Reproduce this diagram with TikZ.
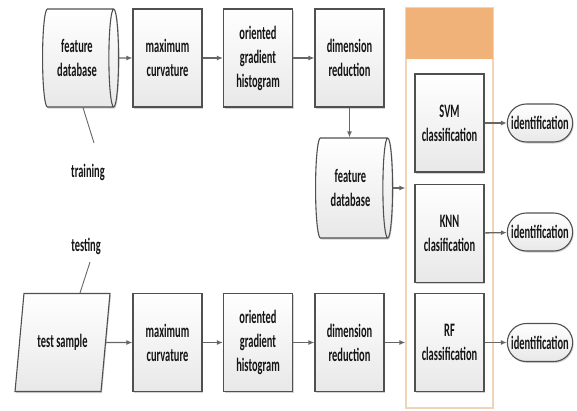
\documentclass[tikz,border=0pt]{standalone}
\usepackage{fontspec}
\setmainfont{Carlito}[FakeStretch=0.55]
\usetikzlibrary{shapes.geometric,shapes.misc,arrows.meta,shadows}
\definecolor{peach}{RGB}{241,178,122}
\definecolor{tanline}{RGB}{240,212,184}
\definecolor{boxline}{RGB}{80,80,80}
\begin{document}
\begin{tikzpicture}[x=1pt,y=1pt,font=\fontsize{19}{24}\selectfont\bfseries,
  stepbox/.style={rectangle,draw=boxline,line width=1.1pt,top color=white,bottom color=black!9,
    minimum width=69pt,minimum height=98pt,align=center,text=black!92,
    drop shadow={shadow xshift=1pt,shadow yshift=-1.5pt,opacity=.35}},
  % cylinder: minimum height runs along its axis
  store/.style={stepbox,cylinder,shape aspect=0.22,anchor=west,minimum height=76pt,minimum width=98pt},
  sample/.style={stepbox,trapezium,trapezium left angle=74,trapezium right angle=106,
    trapezium stretches=true,minimum width=95pt,minimum height=98pt},
  result/.style={stepbox,rounded rectangle,minimum width=72pt,minimum height=38pt},
  flow/.style={draw=black!60,line width=1.3pt,-{Latex[length=6pt,width=5pt]}},
  tie/.style={draw=black!60,line width=0.9pt}]
\useasboundingbox (0,0) rectangle (577,-410);
\def\rowA{-58}
\def\rowB{-342.5}

% classifier group
\node[draw=tanline,line width=1.2pt,minimum width=87pt,minimum height=400pt] (grp) at (449.5,-208) {};
\node[fill=peach,minimum width=87pt,minimum height=51pt] (hdr) at (449.5,-33.5) {};

% training row
\node[store] (fdb1) at (42,\rowA) {feature\\database};
\node[stepbox] (mc1) at (167.5,\rowA) {maximum\\curvature};
\node[stepbox] (ogh1) at (258,\rowA) {oriented\\gradient\\histogram};
\node[stepbox] (dr1) at (349.5,\rowA) {dimension\\reduction};
\node[store,minimum height=77pt,minimum width=100pt] (fdb2) at (315,-188) {feature\\database};

% testing row
\node[sample] (ts) at (62.5,\rowB) {test sample};
\node[stepbox] (mc2) at (167.5,\rowB) {maximum\\curvature};
\node[stepbox] (ogh2) at (258,\rowB) {oriented\\gradient\\histogram};
\node[stepbox] (dr2) at (349.5,\rowB) {dimension\\reduction};

% classifiers
\node[stepbox] (svm) at (449.5,-123) {SVM\\classification};
\node[stepbox] (knn) at (449.5,-233.5) {KNN\\clasification};
\node[stepbox] (rf) at (449.5,\rowB) {RF\\classification};
\node[result] (id1) at (540,-123) {identification};
\node[result] (id2) at (540,-232) {identification};
\node[result] (id3) at (540,\rowB) {identification};

% labels
\node[text=black!92] (trn) at (88,-172) {training};
\node[text=black!92] (tst) at (86,-246) {testing};
\coordinate (trnend) at (94,-143);
\coordinate (tstend) at (90,-262);
\draw[tie] ([xshift=6pt]fdb1.south) -- (trnend);
\draw[tie] (tstend) -- ([xshift=17.5pt]ts.north);

\draw[flow] (fdb1) -- (mc1);
\draw[flow] (mc1) -- (ogh1);
\draw[flow] (ogh1) -- (dr1);
\draw[flow] (dr1) -- (dr1 |- fdb2.north);
\draw[flow] (fdb2.east) -- (grp.west |- fdb2.east);
\draw[flow] (ts) -- (mc2);
\draw[flow] (mc2) -- (ogh2);
\draw[flow] (ogh2) -- (dr2);
\draw[flow] (dr2) -- (grp.west |- dr2.east);
\draw[flow] (svm) -- (id1);
\draw[flow] (knn) -- (id2);
\draw[flow] (rf) -- (id3);
\end{tikzpicture}
\end{document}
